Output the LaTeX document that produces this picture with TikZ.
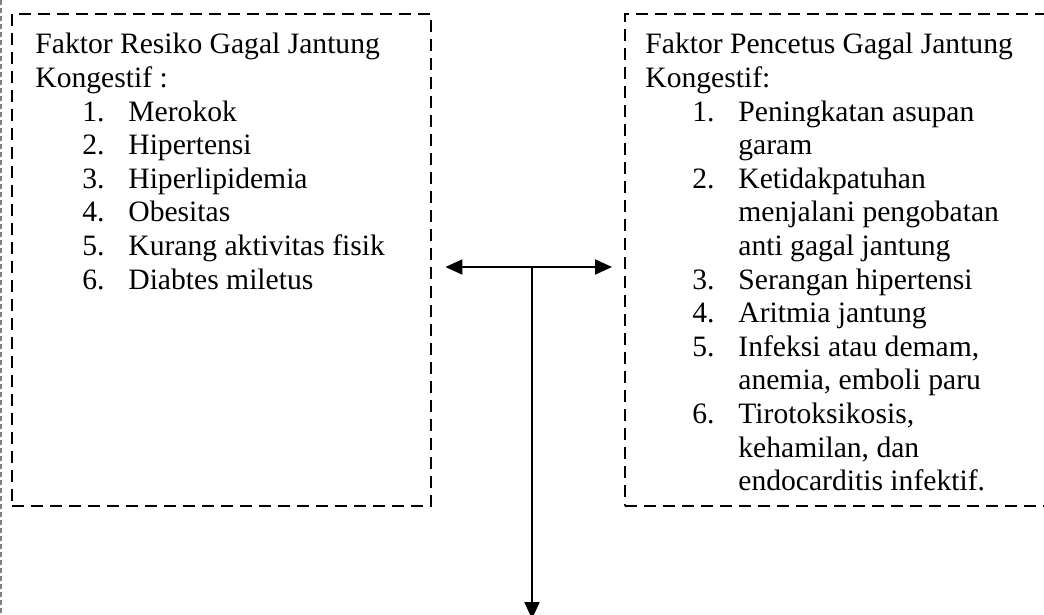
\documentclass[tikz,border=0pt]{standalone}
\usepackage{fontspec}
\setmainfont{Liberation Serif}
\usetikzlibrary{arrows.meta, positioning, calc}

% items of a numbered list inside a box
\newcommand{\itm}[2]{\hspace*{23.5pt}\makebox[23pt][l]{#1.}#2}
\newcommand{\cnt}[1]{\hspace*{46.5pt}#1}

\begin{document}
\begin{tikzpicture}[x=0.5pt, y=-0.5pt,
    factorbox/.style={draw, line width=1.2pt, dash pattern=on 6pt off 3.5pt, minimum height=246pt, inner sep=0pt, anchor=north west},
    factortext/.style={align=left, inner sep=0pt, anchor=north west, font=\fontsize{14.8pt}{16.8pt}\selectfont},
    pointer/.style={line width=1pt, -{Triangle[length=8.5pt, width=7.5pt]}}]
\useasboundingbox (0,0) rectangle (1044,615);
% garis tepi luar
\draw[gray, line width=0.6pt, dash pattern=on 2.5pt off 1.5pt] (1,0) -- (1,615);
% A: faktor resiko
\node[factorbox, minimum width=209.5pt] (resiko) at (11,13) {};
\node[factortext] (resikotext) at (35,33) {%
Faktor Resiko Gagal Jantung\\
Kongestif :\\
\itm{1}{Merokok}\\
\itm{2}{Hipertensi}\\
\itm{3}{Hiperlipidemia}\\
\itm{4}{Obesitas}\\
\itm{5}{Kurang aktivitas fisik}\\
\itm{6}{Diabtes miletus}};
% B: faktor pencetus
\node[factorbox, minimum width=220pt] (pencetus) at (624,13) {};
\node[factortext] (pencetustext) at (645,33) {%
Faktor Pencetus Gagal Jantung\\
Kongestif:\\
\itm{1}{Peningkatan asupan}\\
\cnt{garam}\\
\itm{2}{Ketidakpatuhan}\\
\cnt{menjalani pengobatan}\\
\cnt{anti gagal jantung}\\
\itm{3}{Serangan hipertensi}\\
\itm{4}{Aritmia jantung}\\
\itm{5}{Infeksi atau demam,}\\
\cnt{anemia, emboli paru}\\
\itm{6}{Tirotoksikosis,}\\
\cnt{kehamilan, dan}\\
\cnt{endocarditis infektif.}};
% panah
\coordinate (junction) at (532,267);
\coordinate (bottom) at (532,619);
\draw[pointer, {Triangle[length=8.5pt, width=7.5pt]}-{Triangle[length=8.5pt, width=7.5pt]}, shorten <=6.5pt, shorten >=6pt]
    (resiko.east |- junction) -- (pencetus.west |- junction);
\draw[pointer] (junction) -- (bottom);
\end{tikzpicture}
\end{document}
